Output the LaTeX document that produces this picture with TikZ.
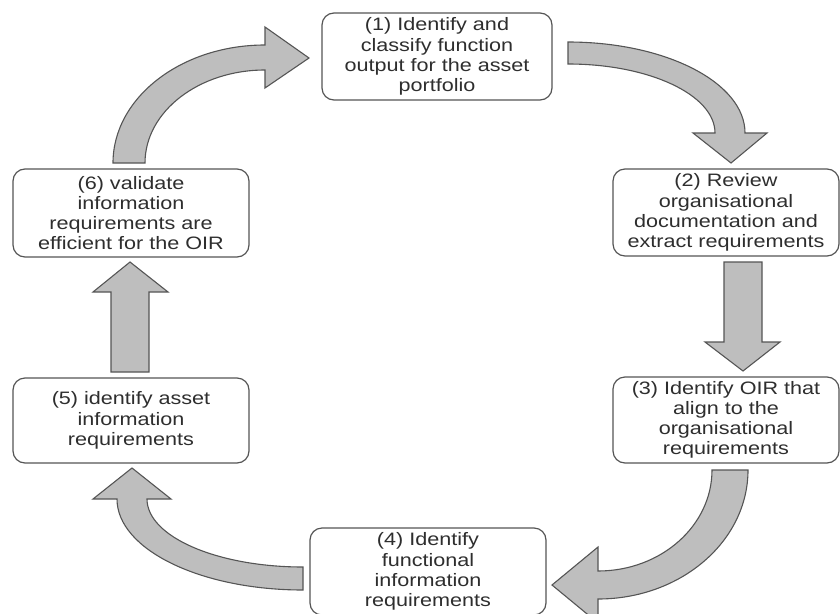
\documentclass[tikz,border=0pt]{standalone}
\usepackage{fontspec}
\setmainfont{Liberation Sans}[FakeStretch=1.2]
\definecolor{boxline}{HTML}{555555}
\definecolor{arrowfill}{HTML}{BEBEBE}
\definecolor{textgray}{HTML}{2E2E2E}
\tikzset{
  stepbox/.style={draw=boxline, line width=1.2pt, fill=white, rounded corners=12pt,
    align=center, inner sep=0pt, text=textgray,
    font=\fontsize{18}{20.2}\selectfont},
  blockarrow/.style={draw=boxline, line width=1.1pt, fill=arrowfill, line join=miter}
}
\begin{document}
\begin{tikzpicture}[x=1pt, y=-1pt]
    \useasboundingbox (0,0) rectangle (840,613);

    % Steps of the cycle
    \node[stepbox, minimum width=230, minimum height=87] (classify) at (437,56.5)
        {(1) Identify and\\classify function\\output for the asset\\portfolio};
    \node[stepbox, minimum width=226, minimum height=87] (review) at (726,212.5)
        {(2) Review\\organisational\\documentation and\\extract requirements};
    \node[stepbox, minimum width=226, minimum height=86] (align) at (726,420)
        {(3) Identify OIR that\\align to the\\organisational\\requirements};
    \node[stepbox, minimum width=236, minimum height=87] (functional) at (428,571.5)
        {(4) Identify\\functional\\information\\requirements};
    \node[stepbox, minimum width=236, minimum height=85] (asset) at (131,420.5)
        {(5) identify asset\\information\\requirements};
    \node[stepbox, minimum width=236, minimum height=88] (validate) at (131,213)
        {(6) validate\\information\\requirements are\\efficient for the OIR};

    % Arrow (1) -> (2)
    \draw[blockarrow] (568,42) arc[start angle=270, end angle=360, x radius=177, y radius=91]
        -- (767,133) -- (731,163) -- (693,133) -- (715,133)
        arc[start angle=360, end angle=270, x radius=147, y radius=69] -- cycle;

    % Arrow (2) -> (3)
    \draw[blockarrow] (724,262) -- (762,262) -- (762,342) -- (780,342)
        -- (743,371) -- (705,342) -- (724,342) -- cycle;

    % Arrow (3) -> (4)
    \draw[blockarrow] (748,470) arc[start angle=0, end angle=90, x radius=150, y radius=129]
        -- (598,623) -- (552,585) -- (598,547) -- (598,571)
        arc[start angle=90, end angle=0, x radius=114, y radius=101] -- cycle;

    % Arrow (4) -> (5)
    \draw[blockarrow] (303,590) arc[start angle=90, end angle=180, x radius=186, y radius=91]
        -- (93,499) -- (132,468) -- (171,499) -- (147,499)
        arc[start angle=180, end angle=90, x radius=156, y radius=68] -- cycle;

    % Arrow (5) -> (6)
    \draw[blockarrow] (111,372) -- (149,372) -- (149,292) -- (168,292)
        -- (130,262) -- (93,292) -- (111,292) -- cycle;

    % Arrow (6) -> (1)
    \draw[blockarrow] (113,163) arc[start angle=180, end angle=270, x radius=152, y radius=118]
        -- (265,27) -- (309,58) -- (265,88) -- (265,70)
        arc[start angle=270, end angle=180, x radius=120, y radius=93] -- cycle;
\end{tikzpicture}
\end{document}
